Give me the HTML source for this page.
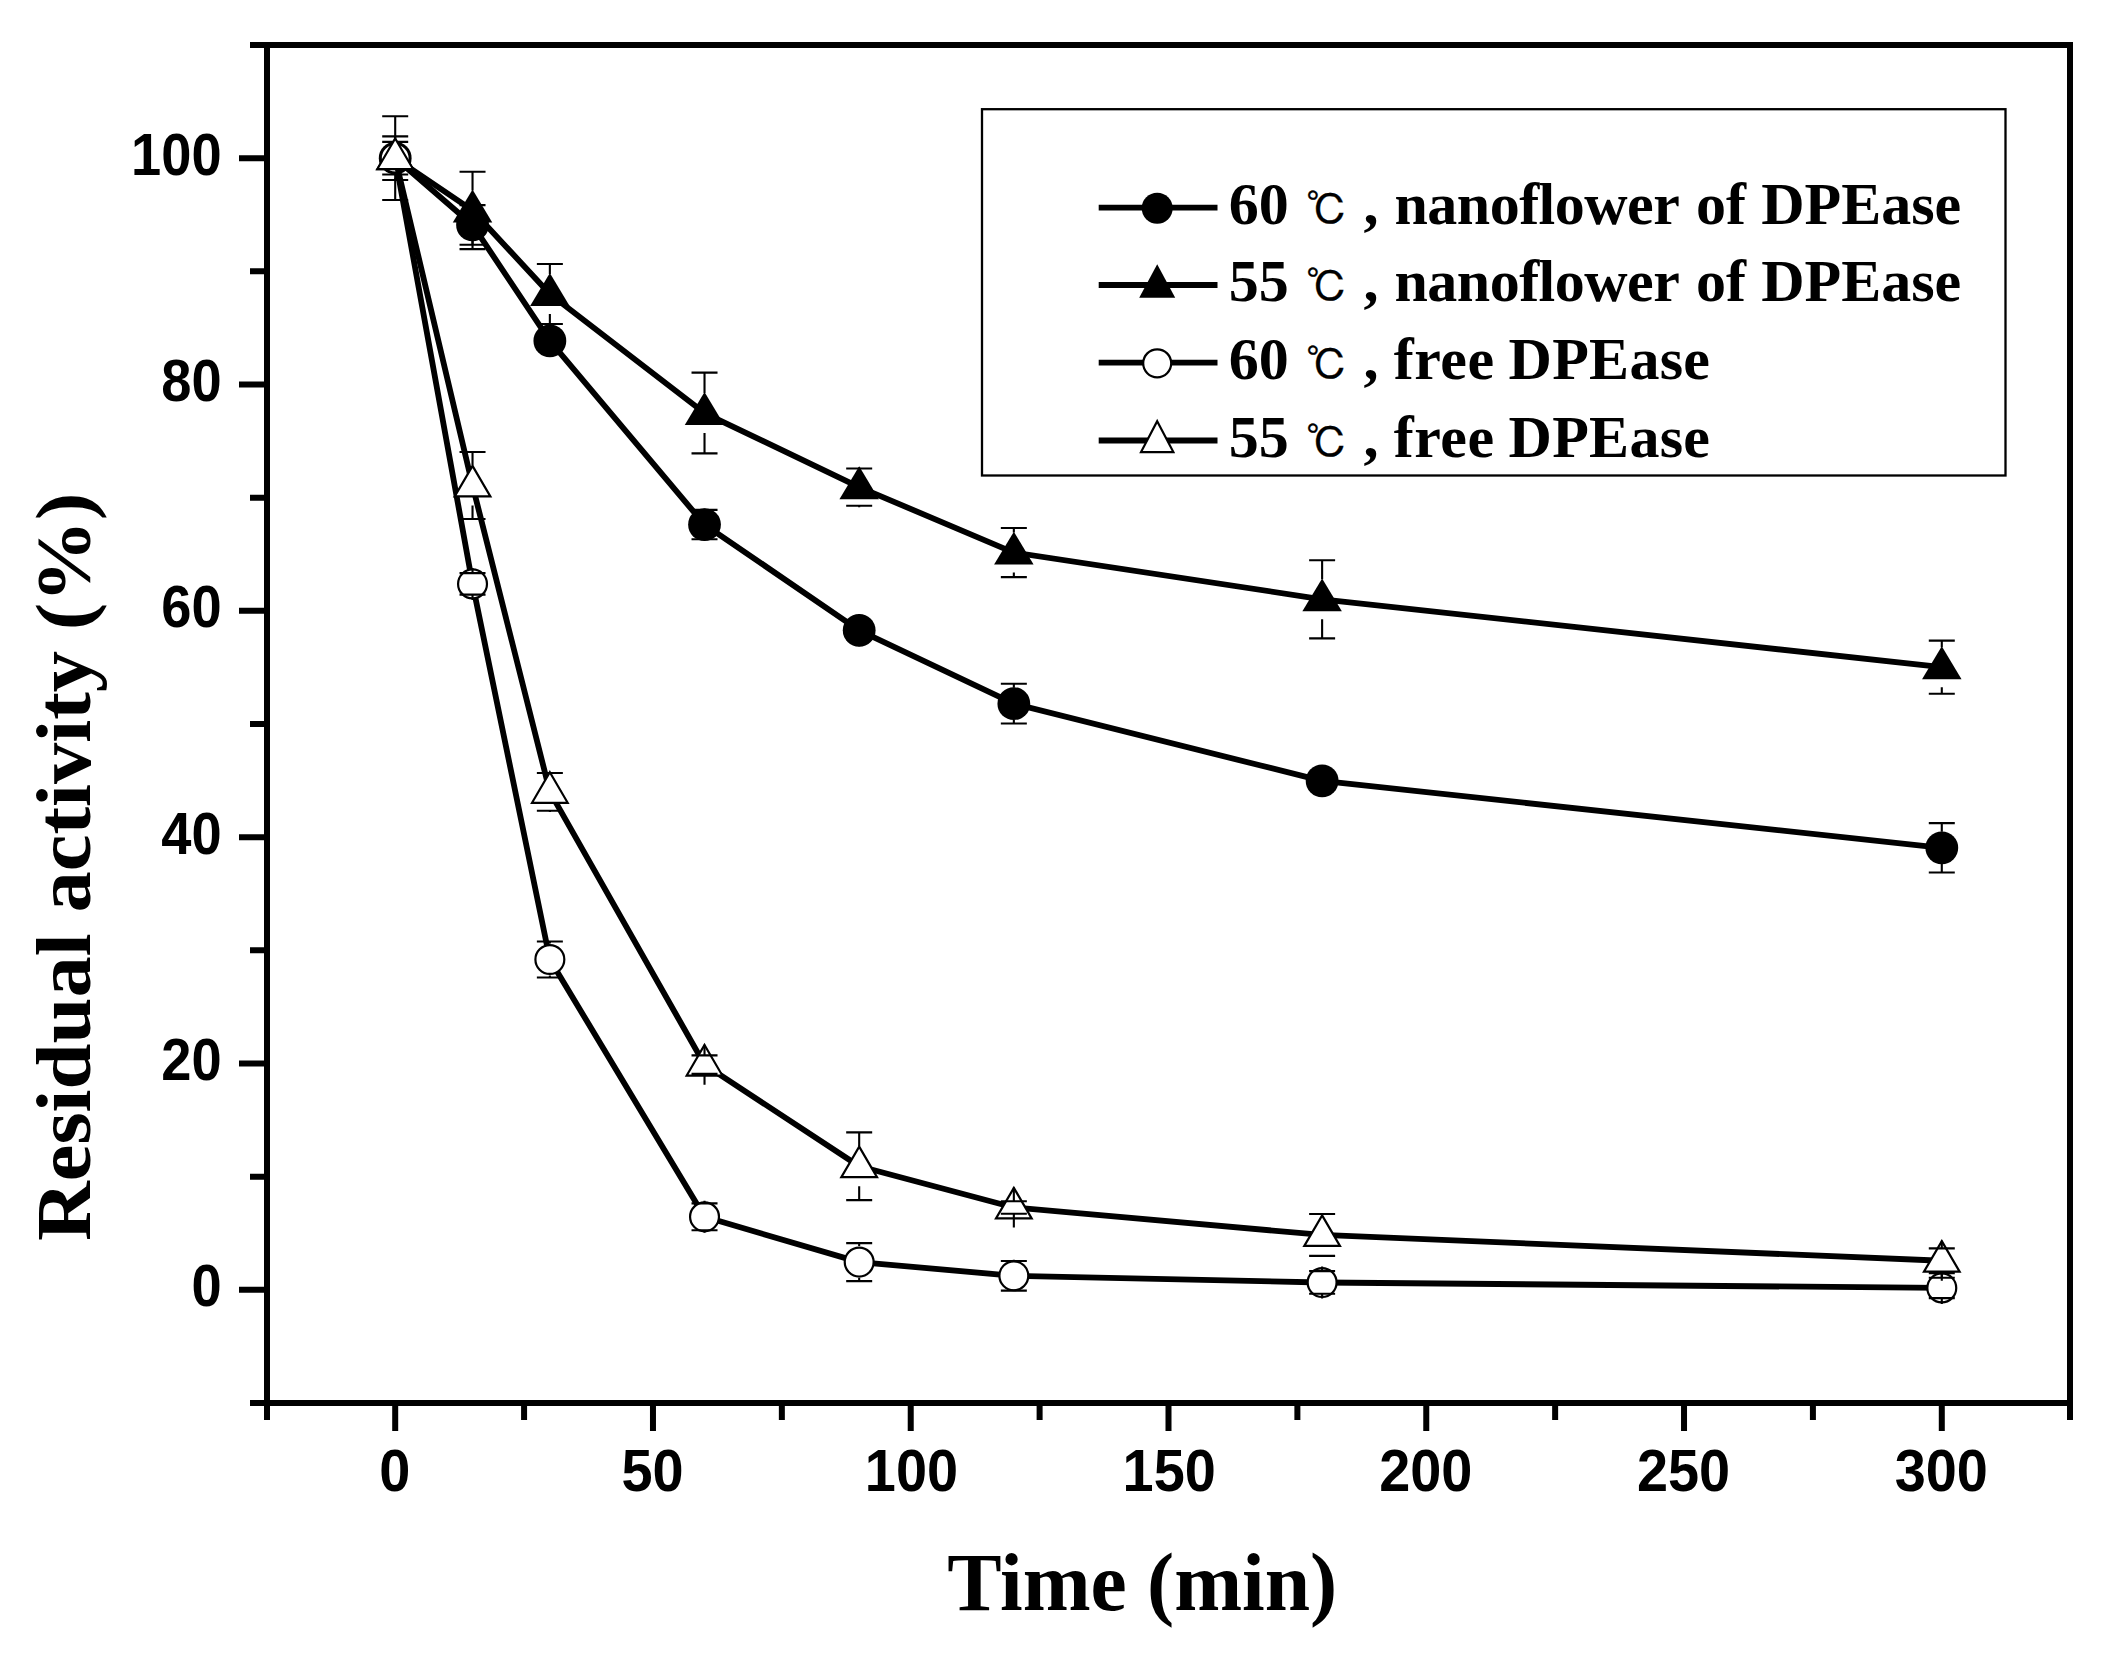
<!DOCTYPE html>
<html lang="en"><head><meta charset="utf-8"><title>Residual activity vs time</title>
<style>html,body{margin:0;padding:0;background:#fff}svg{display:block}.tk{font-family:"Liberation Sans",sans-serif;font-weight:bold;fill:#000}.tt{font-family:"Liberation Serif",serif;font-weight:bold;fill:#000}.lg{font-family:"Liberation Serif","Noto Serif CJK SC",serif;font-weight:bold;font-size:60px;fill:#000}.dc{font-family:"IPAGothic","Noto Sans CJK JP",sans-serif;font-weight:normal;font-size:41.7px;fill:#000;stroke:#000;stroke-width:0.3px}</style></head><body>
<svg width="2122" height="1664" viewBox="0 0 2122 1664">
<rect width="2122" height="1664" fill="#fff"/>
<g stroke="#000" stroke-width="6" fill="none" stroke-linecap="butt">
<path d="M250 45H2073"/>
<path d="M250 1403H2073"/>
<path d="M267 42V1420"/>
<path d="M2070 42V1420"/>
<path d="M239 1289.84H267M250 1176.67H267M239 1063.5H267M250 950.34H267M239 837.17H267M250 724H267M239 610.84H267M250 497.67H267M239 384.5H267M250 271.33H267M239 158.17H267M395.2 1403V1431M524.08 1403V1420M652.97 1403V1431M781.85 1403V1420M910.73 1403V1431M1039.61 1403V1420M1168.5 1403V1431M1297.38 1403V1420M1426.26 1403V1431M1555.14 1403V1420M1684.03 1403V1431M1812.91 1403V1420M1941.79 1403V1431"/>
</g>
<text class="tk" transform="translate(221.6 1306.44) scale(0.92 1)" font-size="59" text-anchor="end">0</text>
<text class="tk" transform="translate(221.6 1080.1) scale(0.92 1)" font-size="59" text-anchor="end">20</text>
<text class="tk" transform="translate(221.6 853.77) scale(0.92 1)" font-size="59" text-anchor="end">40</text>
<text class="tk" transform="translate(221.6 627.44) scale(0.92 1)" font-size="59" text-anchor="end">60</text>
<text class="tk" transform="translate(221.6 401.1) scale(0.92 1)" font-size="59" text-anchor="end">80</text>
<text class="tk" transform="translate(221.6 174.77) scale(0.92 1)" font-size="59" text-anchor="end">100</text>
<text class="tk" transform="translate(394.7 1491) scale(0.955 1)" font-size="58.5" text-anchor="middle">0</text>
<text class="tk" transform="translate(652.47 1491) scale(0.955 1)" font-size="58.5" text-anchor="middle">50</text>
<text class="tk" transform="translate(911.43 1491) scale(0.955 1)" font-size="58.5" text-anchor="middle">100</text>
<text class="tk" transform="translate(1169.2 1491) scale(0.955 1)" font-size="58.5" text-anchor="middle">150</text>
<text class="tk" transform="translate(1425.76 1491) scale(0.955 1)" font-size="58.5" text-anchor="middle">200</text>
<text class="tk" transform="translate(1683.53 1491) scale(0.955 1)" font-size="58.5" text-anchor="middle">250</text>
<text class="tk" transform="translate(1941.29 1491) scale(0.955 1)" font-size="58.5" text-anchor="middle">300</text>
<text class="tt" x="1142.2" y="1610" font-size="81.5" text-anchor="middle">Time (min)</text>
<text class="tt" transform="translate(89.7 866.8) rotate(-90) scale(1.008 0.96)" font-size="82" text-anchor="middle">Residual activity (%)</text>
<polyline fill="none" stroke="#000" stroke-width="5.8" stroke-linejoin="round" points="395.2,158.17 472.53,224.94 549.86,340.93 704.52,524.6 859.18,630.3 1013.84,703.63 1322.12,780.93 1941.79,847.81"/>
<circle cx="395.2" cy="158.17" r="16.4" fill="#000"/>
<circle cx="472.53" cy="224.94" r="16.4" fill="#000"/>
<circle cx="549.86" cy="340.93" r="16.4" fill="#000"/>
<circle cx="704.52" cy="524.6" r="16.4" fill="#000"/>
<circle cx="859.18" cy="630.3" r="16.4" fill="#000"/>
<circle cx="1013.84" cy="703.63" r="16.4" fill="#000"/>
<circle cx="1322.12" cy="780.93" r="16.4" fill="#000"/>
<circle cx="1941.79" cy="847.81" r="16.4" fill="#000"/>
<path d="M382.2 141.87H408.2M395.2 140.82V142.17M382.2 174.46H408.2M395.2 174.17V175.51M459.53 205.13H485.53M472.53 204.08V208.94M459.53 244.74H485.53M472.53 240.94V245.79M536.86 331.88H562.86M549.86 324.93V332.93M536.86 349.99H562.86M549.86 348.94V356.93M691.52 509.89H717.52M704.52 508.6V510.94M691.52 539.31H717.52M704.52 538.26V540.6M846.18 621.25H872.18M859.18 614.3V622.3M846.18 639.35H872.18M859.18 638.3V646.3M1000.84 683.71H1026.84M1013.84 682.66V687.63M1000.84 723.55H1026.84M1013.84 719.63V724.6M1309.12 771.87H1335.12M1322.12 764.93V772.92M1309.12 789.98H1335.12M1322.12 788.93V796.93M1928.79 823.14H1954.79M1941.79 822.09V831.81M1928.79 872.48H1954.79M1941.79 863.81V873.53" fill="none" stroke="#000" stroke-width="2.1"/>
<polyline fill="none" stroke="#000" stroke-width="5.8" stroke-linejoin="round" points="395.2,158.17 472.53,210.45 549.86,293.97 704.52,413.02 859.18,487.14 1013.84,552.55 1322.12,599.29 1941.79,667.19"/>
<polygon points="395.2,137.27 414.95,170.17 375.45,170.17" fill="#000"/>
<polygon points="472.53,189.55 492.28,222.45 452.78,222.45" fill="#000"/>
<polygon points="549.86,273.07 569.61,305.97 530.11,305.97" fill="#000"/>
<polygon points="704.52,392.12 724.27,425.02 684.77,425.02" fill="#000"/>
<polygon points="859.18,466.24 878.93,499.14 839.43,499.14" fill="#000"/>
<polygon points="1013.84,531.65 1033.59,564.55 994.09,564.55" fill="#000"/>
<polygon points="1322.12,578.39 1341.87,611.29 1302.37,611.29" fill="#000"/>
<polygon points="1941.79,646.29 1961.54,679.19 1922.04,679.19" fill="#000"/>
<path d="M382.2 136.33H408.2M395.2 135.28V138.17M382.2 180.01H408.2M395.2 178.17V181.06M459.53 171.75H485.53M472.53 170.7V190.45M459.53 249.15H485.53M472.53 230.45V250.2M536.86 263.98H562.86M549.86 262.93V273.97M536.86 323.96H562.86M549.86 313.97V325.01M691.52 372.62H717.52M704.52 371.57V393.02M691.52 453.42H717.52M704.52 433.02V454.47M846.18 468.47H872.18M859.18 467.14V469.52M846.18 505.82H872.18M859.18 504.77V507.14M1000.84 528H1026.84M1013.84 526.95V532.55M1000.84 577.11H1026.84M1013.84 572.55V578.16M1309.12 560.25H1335.12M1322.12 559.2V579.29M1309.12 638.33H1335.12M1322.12 619.29V639.38M1928.79 640.6H1954.79M1941.79 639.55V647.19M1928.79 693.79H1954.79M1941.79 687.19V694.84" fill="none" stroke="#000" stroke-width="2.1"/>
<polyline fill="none" stroke="#000" stroke-width="5.8" stroke-linejoin="round" points="395.2,158.17 472.53,583.9 549.86,959.5 704.52,1216.84 859.18,1262.11 1013.84,1275.8 1322.12,1282.48 1941.79,1287.91"/>
<circle cx="395.2" cy="158.17" r="14.45" fill="#fff" stroke="#000" stroke-width="2.2"/>
<circle cx="472.53" cy="583.9" r="14.45" fill="#fff" stroke="#000" stroke-width="2.2"/>
<circle cx="549.86" cy="959.5" r="14.45" fill="#fff" stroke="#000" stroke-width="2.2"/>
<circle cx="704.52" cy="1216.84" r="14.45" fill="#fff" stroke="#000" stroke-width="2.2"/>
<circle cx="859.18" cy="1262.11" r="14.45" fill="#fff" stroke="#000" stroke-width="2.2"/>
<circle cx="1013.84" cy="1275.8" r="14.45" fill="#fff" stroke="#000" stroke-width="2.2"/>
<circle cx="1322.12" cy="1282.48" r="14.45" fill="#fff" stroke="#000" stroke-width="2.2"/>
<circle cx="1941.79" cy="1287.91" r="14.45" fill="#fff" stroke="#000" stroke-width="2.2"/>
<path d="M382.2 116.3H408.2M395.2 115.25V142.17M382.2 200.04H408.2M395.2 174.17V201.09M459.53 573.15H485.53M472.53 567.9V574.2M459.53 594.65H485.53M472.53 593.6V599.9M536.86 941.51H562.86M549.86 940.46V943.5M536.86 977.5H562.86M549.86 975.5V978.55M691.52 1203.38H717.52M704.52 1200.84V1204.43M691.52 1230.31H717.52M704.52 1229.26V1232.84M846.18 1243.1H872.18M859.18 1242.05V1246.11M846.18 1281.12H872.18M859.18 1278.11V1282.17M1000.84 1260.98H1026.84M1013.84 1259.8V1262.03M1000.84 1290.63H1026.84M1013.84 1289.58V1291.8M1309.12 1271.16H1335.12M1322.12 1266.48V1272.21M1309.12 1293.8H1335.12M1322.12 1292.75V1298.48M1928.79 1277.73H1954.79M1941.79 1271.91V1278.78M1928.79 1298.1H1954.79M1941.79 1297.05V1303.91" fill="none" stroke="#000" stroke-width="2.1"/>
<polyline fill="none" stroke="#000" stroke-width="5.8" stroke-linejoin="round" points="395.2,158.17 472.53,485.45 549.86,791.9 704.52,1064.63 859.18,1166.26 1013.84,1207.45 1322.12,1234.95 1941.79,1260.75"/>
<polygon points="395.2,138.55 413.03,169.07 377.37,169.07" fill="#fff" stroke="#000" stroke-width="2.2" stroke-linejoin="miter"/>
<polygon points="472.53,465.83 490.36,496.35 454.7,496.35" fill="#fff" stroke="#000" stroke-width="2.2" stroke-linejoin="miter"/>
<polygon points="549.86,772.28 567.69,802.8 532.03,802.8" fill="#fff" stroke="#000" stroke-width="2.2" stroke-linejoin="miter"/>
<polygon points="704.52,1045.02 722.35,1075.53 686.68,1075.53" fill="#fff" stroke="#000" stroke-width="2.2" stroke-linejoin="miter"/>
<polygon points="859.18,1146.64 877.01,1177.16 841.34,1177.16" fill="#fff" stroke="#000" stroke-width="2.2" stroke-linejoin="miter"/>
<polygon points="1013.84,1187.83 1031.67,1218.35 996,1218.35" fill="#fff" stroke="#000" stroke-width="2.2" stroke-linejoin="miter"/>
<polygon points="1322.12,1215.33 1339.96,1245.85 1304.29,1245.85" fill="#fff" stroke="#000" stroke-width="2.2" stroke-linejoin="miter"/>
<polygon points="1941.79,1241.13 1959.62,1271.65 1923.96,1271.65" fill="#fff" stroke="#000" stroke-width="2.2" stroke-linejoin="miter"/>
<path d="M459.53 451.95H485.53M472.53 450.9V465.45M459.53 518.94H485.53M472.53 505.45V519.99M536.86 773H562.86M549.86 771.9V774.05M536.86 810.8H562.86M549.86 809.75V811.9M691.52 1055.35H717.52M704.52 1044.63V1056.4M691.52 1073.91H717.52M704.52 1072.86V1084.63M846.18 1132.42H872.18M859.18 1131.37V1146.26M846.18 1200.1H872.18M859.18 1186.26V1201.15M1000.84 1201.23H1026.84M1013.84 1187.45V1202.28M1000.84 1213.68H1026.84M1013.84 1212.63V1227.45M1309.12 1214.02H1335.12M1322.12 1212.97V1214.95M1309.12 1255.89H1335.12M1322.12 1254.95V1256.94M1928.79 1248.42H1954.79M1941.79 1240.75V1249.47M1928.79 1273.09H1954.79M1941.79 1272.04V1280.75" fill="none" stroke="#000" stroke-width="2.1"/>
<rect x="982" y="109.2" width="1023.5" height="366.3" fill="#fff" stroke="#000" stroke-width="2.3"/>
<path d="M1098.7 207.7H1217.5" stroke="#000" stroke-width="5.8" fill="none"/>
<circle cx="1157.2" cy="208.3" r="15.5" fill="#000"/>
<text class="lg"><tspan x="1228.8" y="223.7">60 </tspan><tspan class="dc" x="1306" y="224.7">℃ </tspan><tspan x="1363.6" y="223.7">, </tspan><tspan x="1394.4" y="223.7" letter-spacing="-0.5">nanoflower </tspan><tspan x="1696.1" y="223.7">of </tspan><tspan x="1761.2" y="223.7">DPEase</tspan></text>
<path d="M1098.7 285H1217.5" stroke="#000" stroke-width="5.8" fill="none"/>
<polygon points="1157.2,264.2 1175.2,297.7 1139.2,297.7" fill="#000"/>
<text class="lg"><tspan x="1228.8" y="301">55 </tspan><tspan class="dc" x="1306" y="302">℃ </tspan><tspan x="1363.6" y="301">, </tspan><tspan x="1394.4" y="301" letter-spacing="-0.5">nanoflower </tspan><tspan x="1696.1" y="301">of </tspan><tspan x="1761.2" y="301">DPEase</tspan></text>
<path d="M1098.7 362.7H1217.5" stroke="#000" stroke-width="5.8" fill="none"/>
<circle cx="1157.2" cy="363.3" r="14" fill="#fff" stroke="#000" stroke-width="2.2"/>
<text class="lg"><tspan x="1228.8" y="378.7">60 </tspan><tspan class="dc" x="1306" y="379.7">℃ </tspan><tspan x="1363.6" y="378.7">, </tspan><tspan x="1393.8" y="378.7" letter-spacing="0.5">free </tspan><tspan x="1508.5" y="378.7" letter-spacing="0.3">DPEase</tspan></text>
<path d="M1098.7 440.5H1217.5" stroke="#000" stroke-width="5.8" fill="none"/>
<polygon points="1157.2,421.17 1173.38,452.1 1141.02,452.1" fill="#fff" stroke="#000" stroke-width="2.2" stroke-linejoin="miter"/>
<text class="lg"><tspan x="1228.8" y="456.5">55 </tspan><tspan class="dc" x="1306" y="457.5">℃ </tspan><tspan x="1363.6" y="456.5">, </tspan><tspan x="1393.8" y="456.5" letter-spacing="0.5">free </tspan><tspan x="1508.5" y="456.5" letter-spacing="0.3">DPEase</tspan></text>
</svg></body></html>
